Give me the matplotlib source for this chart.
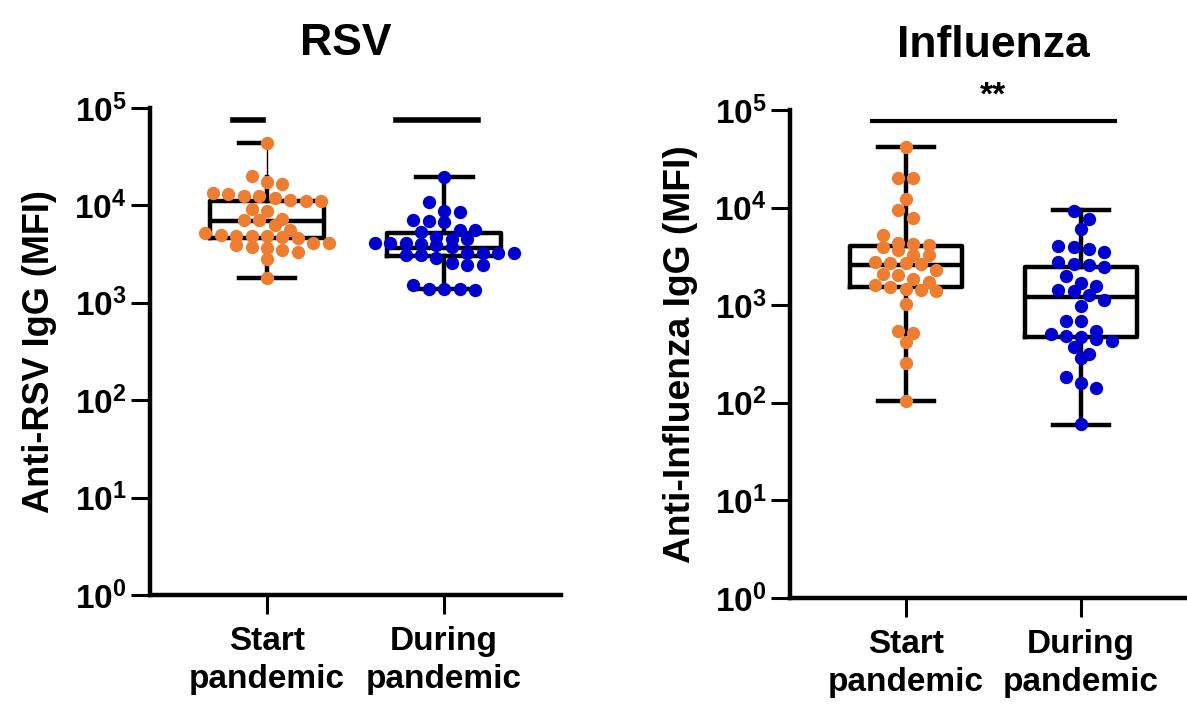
import numpy as np
import matplotlib
matplotlib.use("Agg")
import matplotlib.pyplot as plt

plt.rcParams['font.family'] = ['Liberation Sans', 'DejaVu Sans']
plt.rcParams['font.weight'] = 'bold'

groups = ['Start\npandemic', 'During\npandemic']
orange = '#ED7D31'
blue = '#0000CC'

# values (MFI)
rsv_start = [44000, 20200, 17300, 16400, 13300, 13100, 12600, 12500, 12000, 11400,
             11200, 11100, 9250, 8760, 7310, 7140, 7140, 6260, 5570, 5230, 4960,
             4840, 4840, 4840, 4690, 4580, 4140, 4080, 3920, 3770, 3620, 3480,
             3350, 2800, 1800]
rsv_during = [19400, 10800, 8750, 8550, 7030, 6930, 6770, 5570, 5570, 5360, 4690,
              4510, 4510, 4080, 4080, 4080, 4010, 3920, 3710, 3270, 3270, 3220,
              3220, 3100, 3100, 2870, 2590, 2450, 2450, 1530, 1390, 1390, 1370, 1350]
flu_start = [42000, 20300, 19900, 12300, 9400, 7900, 5280, 4340, 4200, 4100, 3940,
             3650, 3240, 3240, 2770, 2700, 2700, 2620, 2310, 2100, 2020, 1870, 1720,
             1620, 1530, 1470, 1440, 1390, 1030, 550, 520, 417, 254, 105]
flu_during = [9300, 7710, 6080, 4010, 3940, 3790, 3510, 2770, 2620, 2560, 2460, 1990,
              1680, 1560, 1440, 1390, 1260, 1120, 990, 695, 695, 550, 508, 488, 469,
              451, 434, 376, 316, 288, 182, 158, 142, 60]

# box stats: q1, median, q3, whisker low, whisker high
rsv_box = [[4580, 6870, 11100, 1800, 19400], [2990, 3620, 5150, 1370, 19400]]
flu_box = [[1530, 2560, 4040, 105, 42000], [469, 1210, 2490, 59, 9400]]
rsv_start_max = 44000

sig_rsv = 75400
sig_flu = 77100
yticks = [1, 10, 100, 1000, 10000, 100000]


def swarm_x(vals, center, step=0.087, h=0.11):
    logs = np.log10(vals)
    order = np.argsort(-logs)
    xs = np.zeros(len(vals))
    rows, cur, top = [], [], None
    for i in order:
        if cur and top - logs[i] > h:
            rows.append(cur)
            cur = []
        if not cur:
            top = logs[i]
        cur.append(i)
    rows.append(cur)
    for row in rows:
        n = len(row)
        for k, i in enumerate(row):
            xs[i] = center + (k - (n - 1) / 2) * step
    return xs


def panel(ax, data, box, title, ylabel, title_x=0.5, label_size=26):
    stats = []
    for b in box:
        stats.append(dict(q1=b[0], med=b[1], q3=b[2], whislo=b[3], whishi=b[4]))
    lp = dict(color='black', linewidth=3.2)
    bp = ax.bxp(stats, positions=[0, 1], widths=0.64, capwidths=0.32,
                showfliers=False, boxprops=lp, medianprops=lp,
                whiskerprops=lp, capprops=lp, manage_ticks=False, zorder=2)
    for vals, pos, col in zip(data, [0, 1], [orange, blue]):
        ax.scatter(swarm_x(vals, pos), vals, s=92, color=col, linewidths=0, zorder=3)

    ax.set_yscale('log')
    ax.set_ylim(1, 100000)
    ax.set_xlim(-0.66, 1.66)
    ax.set_yticks(yticks)
    ax.set_yticklabels([r'$\mathregular{10^{%d}}$' % int(np.log10(t)) for t in yticks])
    ax.yaxis.set_minor_locator(matplotlib.ticker.NullLocator())
    ax.set_xticks([0, 1])
    ax.set_xticklabels(groups, fontsize=24, fontweight='bold', linespacing=1.3)
    ax.tick_params(axis='y', labelsize=24, length=14, width=2.2, pad=3)
    ax.tick_params(axis='x', length=14, width=2.2, pad=8)
    for s in ['top', 'right']:
        ax.spines[s].set_visible(False)
    for s in ['left', 'bottom']:
        ax.spines[s].set_linewidth(3.2)
    ax.set_title(title, fontsize=32, fontweight='bold', pad=38, x=title_x)
    ax.set_ylabel(ylabel, fontsize=label_size, fontweight='bold')
    ax.yaxis.set_label_coords(-0.226, 0.5)
    return bp


fig = plt.figure(figsize=(11.87, 7.10), dpi=100)
ax1 = fig.add_axes([0.1264, 0.1620, 0.3463, 0.6859])
ax2 = fig.add_axes([0.6655, 0.1577, 0.3429, 0.6873])

bp1 = panel(ax1, [rsv_start, rsv_during], rsv_box, 'RSV', 'Anti-RSV IgG (MFI)',
            title_x=0.475, label_size=26)
# upper whisker of the first RSV box: thin line up to the maximum, half cap
bp1['caps'][1].set_visible(False)
ax1.plot([0, 0], [rsv_box[0][4], rsv_start_max], color='black', lw=1, zorder=2)
ax1.plot([-0.16, 0], [rsv_start_max, rsv_start_max], color='black', lw=3.2, zorder=2)
ax1.plot([-0.19, -0.02], [sig_rsv, sig_rsv], color='black', lw=4)
ax1.plot([0.73, 1.19], [sig_rsv, sig_rsv], color='black', lw=4)

panel(ax2, [flu_start, flu_during], flu_box, 'Influenza', 'Anti-Influenza IgG (MFI)',
      label_size=26.8)
ax2.plot([-0.19, 1.19], [sig_flu, sig_flu], color='black', lw=3)
ax2.text(0.5, sig_flu * 1.25, '**', ha='center', va='bottom', fontsize=24, fontweight='bold')

fig.savefig('out.png', dpi=100)
